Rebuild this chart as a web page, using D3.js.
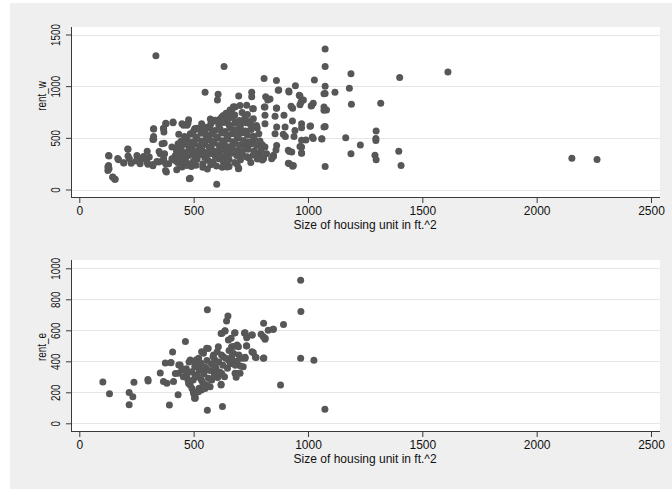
<!DOCTYPE html>
<html>
<head>
<meta charset="utf-8">
<script src="https://cdn.jsdelivr.net/npm/d3@7"></script>
<style>
  body { margin: 0; background: #fff; }
  svg { display: block; font-family: "Liberation Sans", Arial, sans-serif; }
</style>
</head>
<body>
<div id="chart"></div>
<script>
// size of housing unit (ft^2) vs weekly rent
const rentW = [
  [335,1295],[633,1190],[1075,1360],[1075,1190],[808,1075],[862,1056],[1028,1060],[1075,998],
  [1075,930],[1118,940],[945,1005],[916,953],[872,963],[550,940],[607,921],[604,866],
  [697,905],[754,940],[754,898],[815,898],[824,866],[834,876],[965,905],[980,866],
  [1023,834],[1014,808],[965,821],[933,786],[862,786],[812,799],[761,782],[732,815],
  [674,802],[659,770],[642,737],[624,705],[608,673],[573,683],[514,592],[456,621],
  [475,641],[410,654],[378,641],[325,586],[368,592],[325,512],[325,486],[371,448],
  [349,367],[297,370],[281,319],[212,393],[213,325],[168,299],[130,325],[128,232],
  [130,200],[147,119],[157,100],[195,258],[227,254],[249,277],[266,248],[300,245],
  [322,229],[339,270],[362,277],[378,248],[377,184],[419,280],[426,190],[451,241],
  [485,109],[490,222],[601,52],[697,206],[655,222],[541,367],[549,454],[572,477],
  [587,351],[645,399],[674,448],[703,544],[761,480],[776,351],[805,303],[849,319],
  [860,383],[901,512],[914,254],[936,232],[919,367],[965,415],[972,351],[991,480],
  [1011,615],[1023,493],[1061,489],[1075,222],[1075,609],[1081,770],[1070,798],[1070,766],
  [1070,605],[1070,927],[1188,1121],[1181,979],[1190,824],[1318,834],[1401,1085],[1612,1137],
  [1165,502],[1229,431],[1188,345],[1298,567],[1297,493],[1297,473],[1293,332],[1298,287],
  [1397,370],[1407,232],[2154,303],[2264,290],
  [870,960],[917,943],[962,911],[970,847],[1016,814],[926,805],[863,789],[809,798],
  [758,782],[703,814],[681,798],[666,766],[652,734],[637,701],[620,685],[593,669],
  [564,605],[535,637],[506,588],[725,701],[761,685],[812,718],[856,708],[895,718],
  [932,663],[972,637],[1009,611],[812,637],[863,605],[900,605],[943,572],[972,598],
  [856,540],[892,534],[939,514],[972,476],[1019,508],[1060,492],[812,411],[863,427],
  [914,379],[972,411],[972,353],[929,363],[819,347],[849,331],[805,298],[841,298],
  [732,314],[696,379],[652,411],[647,243],[647,218],[696,201],[919,250],[933,224],
  [325,589],[322,485],[379,637],[369,589],[410,647],[370,556],[449,637],[478,676],
  [471,621],[505,589],[435,534],[486,540],[362,443],[405,411],[128,330],[213,389],
  [172,289],[125,218],[125,185],[146,121],[155,98],[194,256],[219,298],[252,330],
  [252,282],[274,298],[296,266],[306,314],[322,243],[347,266],[354,347],[373,347],
  [369,298],[381,169],[391,250],[405,298],[420,330],[432,298],[449,347],[449,218],
  [464,282],[478,330],[481,105],[493,250],[507,314],[522,347],[529,427],[493,460],
  [464,443],[432,443],
  [430,262],[455,281],[472,255],[498,270],[515,292],[540,248],[562,283],[585,266],
  [610,298],[628,275],[655,290],[680,262],[705,288],[742,305],[778,296],
  [418,318],[441,337],[460,309],[487,345],[505,322],[528,338],[548,311],[571,347],
  [594,325],[617,340],[639,316],[662,348],[688,330],[710,342],[733,318],[760,335],[790,342],
  [425,372],[446,388],[470,360],[494,395],[512,368],[535,382],[556,355],[578,392],
  [600,370],[622,386],[645,362],[668,398],[690,376],[713,364],[738,390],[765,372],[795,380],
  [433,415],[458,438],[480,408],[503,443],[525,420],[547,436],[568,410],[590,447],
  [612,425],[634,440],[657,412],[680,445],[702,428],[725,415],[750,440],[775,425],[800,432],
  [445,468],[470,485],[492,455],[515,492],[537,470],[560,482],[582,458],[605,496],
  [627,472],[650,488],[672,462],[695,495],[718,475],[740,460],[765,490],[790,470],
  [460,512],[485,535],[510,505],[532,545],[555,520],[577,538],[600,508],[622,546],
  [645,525],[668,540],[690,512],[712,548],[735,528],[760,515],[785,540],
  [500,565],[525,585],[548,558],[570,595],[593,572],[615,588],[638,562],[660,598],
  [683,575],[705,590],[728,565],[752,580],[778,595],
  [540,612],[575,635],[610,620],[632,648],[655,625],[680,640],[702,615],[725,645],
  [748,628],[775,620],
  [590,662],[620,690],[648,672],[672,695],[700,668],[725,688],[750,660],
  [630,715],[655,740],[680,720],[712,745],[735,725],
  [510,235],[540,215],[575,240],[600,228],[625,215],[560,198],[470,232],[440,240],
  [690,245],[750,262],[800,285]
];

// size of housing unit (ft^2) vs rent_e
const rentE = [
  [103,267],[132,191],[218,198],[234,172],[218,120],[239,265],[300,282],[301,273],
  [394,118],[432,185],[464,527],[408,460],[376,389],[400,391],[354,325],[368,269],
  [383,258],[412,269],[434,323],[441,376],[450,351],[470,329],[475,280],[485,247],
  [499,204],[504,161],[524,226],[534,215],[557,247],[560,84],[560,733],[543,452],
  [557,484],[587,441],[587,333],[601,312],[616,323],[620,252],[626,108],[624,581],
  [637,596],[650,693],[644,660],[664,548],[679,583],[674,495],[690,505],[722,583],
  [733,559],[757,570],[731,501],[755,462],[770,426],[725,426],[703,323],[686,297],
  [681,323],[806,645],[795,574],[813,548],[826,600],[847,607],[893,637],[807,422],
  [880,247],[968,923],[969,721],[968,419],[1026,407],[1074,90],
  [849,606],[805,558],[812,543],[754,569],[725,584],[732,552],[681,584],[637,597],
  [620,580],[652,537],[666,494],[608,494],[564,483],[535,462],[732,498],[696,494],
  [761,455],[773,425],[805,419],[725,419],[717,365],[688,322],[623,322],[605,296],
  [579,279],[620,247],[572,236],[550,225],[521,204],[506,172],[593,408],[630,429],
  [652,408],[666,429],[593,365],[550,344],[521,365],[506,311],
  [401,393],[420,322],[435,376],[449,344],[471,311],[478,257],[493,225],[500,193],
  [507,161],[485,408],[507,387],[522,419],[529,344],[515,311],[534,279],
  [455,300],[468,352],[480,395],[492,332],[498,280],[505,365],[512,410],[518,298],
  [525,342],[532,388],[540,262],[545,318],[552,362],[558,405],[565,290],[572,340],
  [578,385],[585,430],[590,305],[598,355],[603,462],[610,395],[615,330],[622,440],
  [628,375],[635,300],[640,420],[648,355],[655,470],[660,385],[668,410],[675,450],
  [682,375],[690,400],[698,440],[705,370],[712,420]
];

const xTicks = [0, 500, 1000, 1500, 2000, 2500];
const yTicksW = [0, 500, 1000, 1500];
const yTicksE = [0, 200, 400, 600, 800, 1000];
const xTitle = "Size of housing unit in ft.^2";

const width = 672, height = 489;
const dotColor = "#575757";
const gridColor = "#e6e6e6";
const axisColor = "#3a3a3a";
const fontSize = "12px";
// vertical labels come out narrower than the horizontal ones
const squeeze = "scale(0.82,1)";

const svg = d3.select("#chart").append("svg")
  .attr("width", width)
  .attr("height", height);

svg.append("rect")
  .attr("x", 10).attr("y", 3)
  .attr("width", width - 10).attr("height", height - 3)
  .attr("fill", "#efefef");

function drawPanel(opts) {
  const { top, bottom, yMax, y0px, yMaxPx, yTicks, data, yTitle, yTitleY } = opts;
  const left = 72, right = 660;

  const x = d3.scaleLinear().domain([0, 2500]).range([79.3, 651]);
  const y = d3.scaleLinear().domain([0, yMax]).range([y0px, yMaxPx]);

  const g = svg.append("g");

  g.append("rect")
    .attr("x", left).attr("y", top)
    .attr("width", right - left).attr("height", bottom - top)
    .attr("fill", "#fff");

  // gridlines
  g.append("g")
    .selectAll("line")
    .data(yTicks)
    .join("line")
    .attr("x1", left).attr("x2", right)
    .attr("y1", d => Math.round(y(d)) + 0.5)
    .attr("y2", d => Math.round(y(d)) + 0.5)
    .attr("stroke", gridColor)
    .attr("stroke-width", 1);

  // y axis
  const yAxis = d3.axisLeft(y).tickValues(yTicks).tickSize(5.5).tickFormat(d3.format("d"));
  const ya = g.append("g")
    .attr("transform", `translate(${left - 0.5},0)`)
    .call(yAxis);
  ya.select(".domain").remove();
  ya.selectAll(".tick line").attr("stroke", axisColor);
  ya.selectAll(".tick text")
    .attr("transform", "rotate(-90) " + squeeze)
    .attr("x", 0).attr("y", -12).attr("dy", 0)
    .attr("text-anchor", "middle")
    .attr("fill", "#111")
    .style("font-size", fontSize);
  g.append("line")
    .attr("x1", left - 0.5).attr("x2", left - 0.5)
    .attr("y1", top).attr("y2", bottom + 0.5)
    .attr("stroke", axisColor);

  // x axis
  const xAxis = d3.axisBottom(x).tickValues(xTicks).tickSize(5.5).tickFormat(d3.format("d"));
  const xa = g.append("g")
    .attr("transform", `translate(0,${bottom + 0.5})`)
    .call(xAxis);
  xa.select(".domain").remove();
  xa.selectAll(".tick line").attr("stroke", axisColor);
  xa.selectAll(".tick text")
    .attr("y", 17.8).attr("dy", 0)
    .attr("fill", "#111")
    .style("font-size", fontSize);
  g.append("line")
    .attr("x1", left - 1).attr("x2", right)
    .attr("y1", bottom + 0.5).attr("y2", bottom + 0.5)
    .attr("stroke", axisColor);

  // titles
  g.append("text")
    .attr("x", x(1250)).attr("y", bottom + 32)
    .attr("text-anchor", "middle")
    .attr("fill", "#111")
    .style("font-size", fontSize)
    .text(xTitle);

  g.append("text")
    .attr("transform", `translate(45.5,${yTitleY}) rotate(-90) ${squeeze}`)
    .attr("text-anchor", "middle")
    .attr("fill", "#111")
    .style("font-size", fontSize)
    .text(yTitle);

  // points
  g.append("g")
    .selectAll("circle")
    .data(data)
    .join("circle")
    .attr("cx", d => x(d[0]))
    .attr("cy", d => y(d[1]))
    .attr("r", 3.5)
    .attr("fill", dotColor);
}

drawPanel({
  top: 27, bottom: 197, yMax: 1500, y0px: 189.5, yMaxPx: 34.5,
  yTicks: yTicksW, data: rentW, yTitle: "rent_w", yTitleY: 96
});

drawPanel({
  top: 260, bottom: 431, yMax: 1000, y0px: 423.3, yMaxPx: 268.3,
  yTicks: yTicksE, data: rentE, yTitle: "rent_e", yTitleY: 347
});
</script>
</body>
</html>
